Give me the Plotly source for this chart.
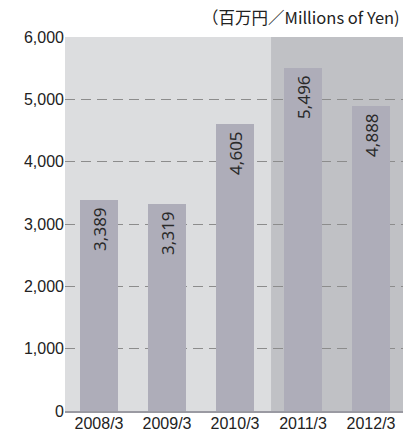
import plotly.graph_objects as go

categories = ["2008/3", "2009/3", "2010/3", "2011/3", "2012/3"]
values = [3389, 3319, 4605, 5496, 4888]
labels = ["3,389", "3,319", "4,605", "5,496", "4,888"]
y_ticks = [0, 1000, 2000, 3000, 4000, 5000, 6000]
y_ticktext = ["0", "1,000", "2,000", "3,000", "4,000", "5,000", "6,000"]

fig = go.Figure()
fig.add_trace(go.Bar(
    x=list(range(len(categories))), y=values, text=labels,
    texttemplate="%{text}\u00a0",
    width=0.56, marker=dict(color="#aeadb9", line=dict(width=0)),
    textposition="inside", insidetextanchor="end", textangle=-90,
    constraintext="none", cliponaxis=False,
    textfont=dict(family="Noto Sans, sans-serif", size=17, color="#2a2a2a"),
    hoverinfo="skip",
))

fig.add_shape(type="rect", xref="x", yref="y", x0=2.53, x1=4.6, y0=0, y1=6000,
              fillcolor="#c0c1c5", line=dict(width=0), layer="below")

fig.add_annotation(text="（百万円／Millions of Yen)", xref="paper", yref="paper",
                   x=1.0, y=1.0, xanchor="right", yanchor="bottom", yshift=6, xshift=-1,
                   showarrow=False,
                   font=dict(family="Noto Sans CJK JP, sans-serif", size=16.5, color="#222"))

fig.update_layout(
    width=403, height=432,
    margin=dict(l=65, r=0, t=37, b=21, autoexpand=False),
    paper_bgcolor="white", plot_bgcolor="#dcdddf",
    showlegend=False, bargap=0,
    xaxis=dict(range=[-0.5, 4.47], tickmode="array", tickvals=list(range(len(categories))),
               ticktext=categories, showgrid=False, zeroline=False, automargin=False,
               showline=True, linecolor="#9a9aa2", linewidth=2,
               tickfont=dict(family="Liberation Sans, Arial, sans-serif", size=16, color="#222"),
               ticks="", ticklabelstandoff=-3, fixedrange=True),
    yaxis=dict(range=[0, 6000], tickmode="array", tickvals=y_ticks, ticktext=y_ticktext,
               showgrid=True, gridcolor="#8c8c8c", griddash="10px,6px", gridwidth=1,
               zeroline=False, showline=False, ticks="", ticklen=0, automargin=False,
               tickfont=dict(family="Liberation Sans, Arial, sans-serif", size=16, color="#222"),
               fixedrange=True),
)

fig.write_html("out.html", config={"displayModeBar": False},
               post_script="document.body.style.margin='0';document.body.style.overflow='hidden';")
